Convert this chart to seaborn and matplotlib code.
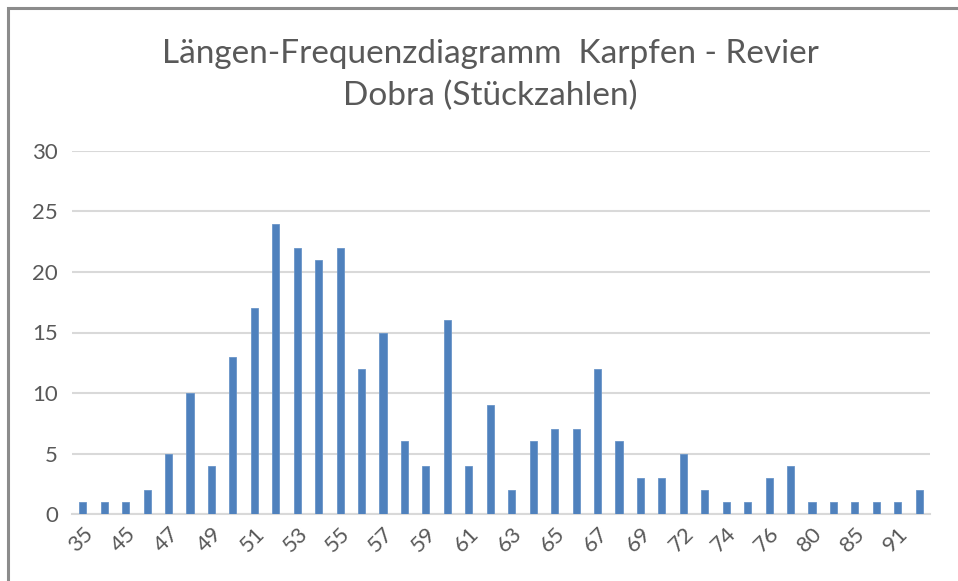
import matplotlib
matplotlib.use("Agg")
import matplotlib.pyplot as plt
import pandas as pd
import seaborn as sns
from matplotlib.patches import Rectangle

# length classes (cm) and number of carp caught
lengths = ["35", "40", "45", "46", "47", "48", "49", "50", "51", "52",
           "53", "54", "55", "56", "57", "58", "59", "60", "61", "62",
           "63", "64", "65", "66", "67", "68", "69", "70", "72", "73",
           "74", "75", "76", "78", "80", "82", "85", "88", "91", "93"]
counts = [1, 1, 1, 2, 5, 10, 4, 13, 17, 24,
          22, 21, 22, 12, 15, 6, 4, 16, 4, 9,
          2, 6, 7, 7, 12, 6, 3, 3, 5, 2,
          1, 1, 3, 4, 1, 1, 1, 1, 1, 2]
y_ticks = [0, 5, 10, 15, 20, 25, 30]
title = "Längen-Frequenzdiagramm  Karpfen - Revier\nDobra (Stückzahlen)"

df = pd.DataFrame({"Länge": lengths, "Anzahl": counts})

sns.set_style("white")
plt.rcParams["font.family"] = ["Lato", "DejaVu Sans"]
text_color = "#595959"
grid_color = "#d9d9d9"

fig = plt.figure(figsize=(9.58, 5.81), dpi=100)
ax = fig.add_axes([72 / 958, 1 - 514 / 581, (930 - 72) / 958, (514 - 151) / 581])

sns.barplot(data=df, x="Länge", y="Anzahl", color="#4f81bd", width=0.33,
            saturation=1, edgecolor="#6a95c8", linewidth=0.6, ax=ax, zorder=3)

ax.set_ylim(0, 30)
ax.set_xlim(-0.5, len(lengths) - 0.5)
ax.set_yticks(y_ticks)
ax.set_yticklabels([str(v) for v in y_ticks], fontsize=16, color=text_color)
ax.yaxis.grid(True, color=grid_color, linewidth=1.5, zorder=0)
ax.set_xticks(range(0, len(lengths), 2))
ax.set_xticklabels(lengths[::2], rotation=45, ha="right", rotation_mode="anchor",
                   fontsize=16, color=text_color)
ax.tick_params(axis="both", length=0)
ax.tick_params(axis="x", pad=7)
ax.tick_params(axis="y", pad=10)
ax.set_xlabel("")
ax.set_ylabel("")
for side in ["top", "right", "left"]:
    ax.spines[side].set_visible(False)
ax.spines["bottom"].set_color(grid_color)
ax.spines["bottom"].set_linewidth(1.5)

fig.text(0.512, 1 - 75 / 581, title, ha="center", va="center", fontsize=24,
         color=text_color, linespacing=1.45)

# outer chart frame (left and top edges visible)
fig.add_artist(Rectangle((7.5 / 958, -0.1), 1.2, 1.1 - 7.5 / 581,
                         transform=fig.transFigure, fill=False,
                         edgecolor="#8c8c8c", linewidth=2.2))

fig.savefig("out.png", dpi=100)
